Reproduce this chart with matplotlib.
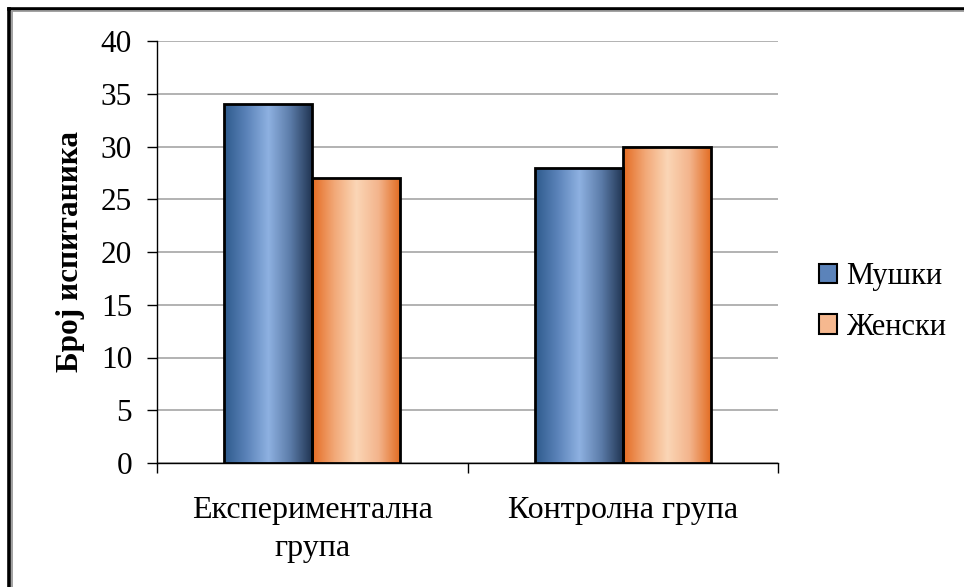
import numpy as np
import matplotlib.pyplot as plt
from matplotlib.colors import LinearSegmentedColormap
from matplotlib.patches import Rectangle
from matplotlib.lines import Line2D

groups = ["Експериментална\nгрупа", "Контролна група"]
series = ["Мушки", "Женски"]
male = [34, 28]
female = [27, 30]
yticks = [0, 5, 10, 15, 20, 25, 30, 35, 40]

plt.rcParams['font.family'] = ['Liberation Serif', 'DejaVu Serif']

fig = plt.figure(figsize=(9.64, 5.87), dpi=100)
ax = fig.add_axes([157 / 964, 1 - 463 / 587, (778 - 157) / 964, (463 - 41) / 587])

blue_cmap = LinearSegmentedColormap.from_list(
    "blue_metal", ["#2E5A8C", "#5A82B8", "#8EB1E1", "#5B7BA8", "#1E324F"])
orange_cmap = LinearSegmentedColormap.from_list(
    "orange_metal", ["#E46B22", "#F2A877", "#FBD6B6", "#F3B48C", "#E26A1F"])

x = np.arange(len(groups))
width = 0.284
grad = np.linspace(0, 1, 256).reshape(1, -1)


def gradient_bar(xc, h, cmap):
    left = xc - width / 2
    rect = Rectangle((left, 0), width, h, facecolor="none",
                     edgecolor="black", linewidth=2.0, zorder=4)
    ax.add_patch(rect)
    im = ax.imshow(grad, cmap=cmap, aspect="auto",
                   extent=(left, left + width, 0, h), zorder=3,
                   interpolation="bilinear")
    im.set_clip_path(rect)


for i in range(len(groups)):
    gradient_bar(x[i] - width / 2, male[i], blue_cmap)
    gradient_bar(x[i] + width / 2, female[i], orange_cmap)

ax.set_xlim(-0.5, 1.5)
ax.set_ylim(0, 40)
ax.set_yticks(yticks)
ax.set_yticklabels([str(v) for v in yticks], fontsize=22.5)
ax.yaxis.grid(True, color="#a6a6a6", linewidth=1.2, zorder=0)
ax.set_axisbelow(True)

ax.set_xticks([-0.5, 0.5, 1.5])
ax.set_xticklabels([])
ax.set_xticks(x, minor=True)
ax.set_xticklabels(groups, minor=True, fontsize=23, linespacing=1.4)
ax.tick_params(axis="x", which="minor", length=0, pad=24)
ax.tick_params(axis="x", which="major", length=7, width=1, direction="out")
ax.tick_params(axis="y", length=7, width=1, direction="out", pad=11)

for s in ["top", "right"]:
    ax.spines[s].set_visible(False)
for s in ["left", "bottom"]:
    ax.spines[s].set_linewidth(1)

ax.set_ylabel("Број испитаника", fontsize=22.5, fontweight="bold", labelpad=11)

handles = [Rectangle((0, 0), 1, 1, facecolor="#5B83BA", edgecolor="black", linewidth=1.5),
           Rectangle((0, 0), 1, 1, facecolor="#F6B88F", edgecolor="black", linewidth=1.5)]
fig.legend(handles, series, loc="center left", bbox_to_anchor=(791 / 964, 1 - 302 / 587),
           frameon=False, fontsize=22, handlelength=0.6, handleheight=0.6,
           handletextpad=0.3, labelspacing=0.7)

# chart border: top and left edges, black with a grey inner line
fig.add_artist(Line2D([9 / 964, 1], [1 - 8.5 / 587] * 2, transform=fig.transFigure,
                      color="black", linewidth=2.6))
fig.add_artist(Line2D([9 / 964] * 2, [0, 1 - 8.5 / 587], transform=fig.transFigure,
                      color="black", linewidth=2.6))
fig.add_artist(Line2D([12 / 964, 1], [1 - 11 / 587] * 2, transform=fig.transFigure,
                      color="#9a9a9a", linewidth=1.3))
fig.add_artist(Line2D([12 / 964] * 2, [0, 1 - 11 / 587], transform=fig.transFigure,
                      color="#9a9a9a", linewidth=1.3))

fig.savefig("out.png", dpi=100)
